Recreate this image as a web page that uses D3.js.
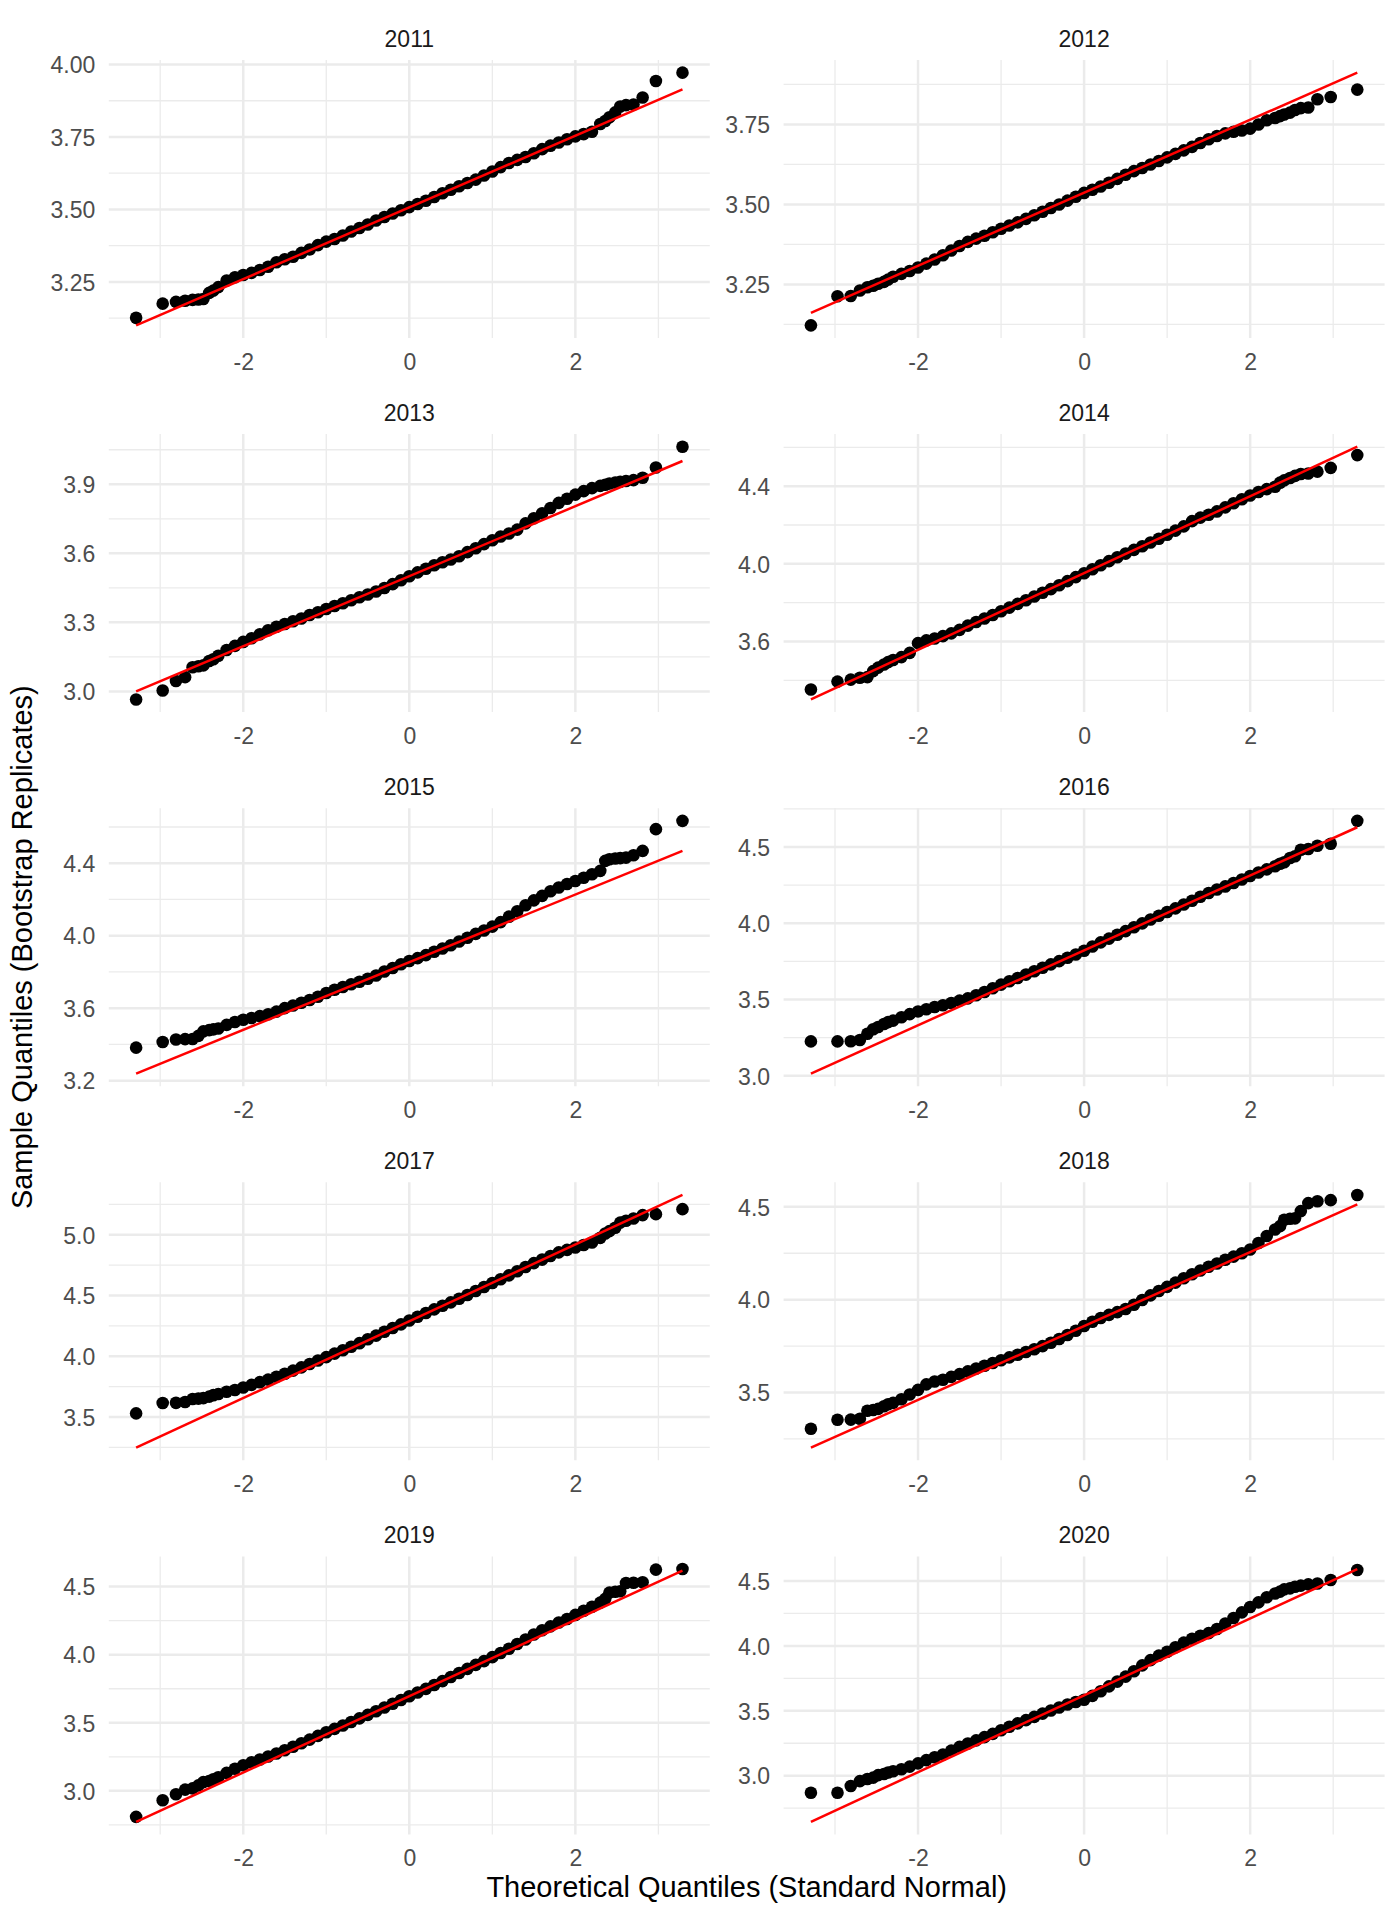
<!DOCTYPE html>
<html>
<head>
<meta charset="utf-8">
<script src="https://cdn.jsdelivr.net/npm/d3@7"></script>
<style>
  body { margin: 0; background: #fff; }
  svg { display: block; }
  text { font-family: "Liberation Sans", Arial, Helvetica, sans-serif; }
</style>
</head>
<body>
<svg width="1400" height="1920"></svg>
<script>
// facets
var years = ["2011", "2012", "2013", "2014", "2015", "2016", "2017", "2018", "2019", "2020"];

// theoretical quantiles (standard normal) of the plotted points
var theo = [-3.29, -2.97, -2.81, -2.70, -2.61, -2.54, -2.48, -2.41, -2.36,
  -2.3, -2.2, -2.1, -2.0, -1.9, -1.8, -1.7, -1.6, -1.5, -1.4, -1.3, -1.2, -1.1, -1.0,
  -0.9, -0.8, -0.7, -0.6, -0.5, -0.4, -0.3, -0.2, -0.1, 0,
  0.1, 0.2, 0.3, 0.4, 0.5, 0.6, 0.7, 0.8, 0.9, 1.0,
  1.1, 1.2, 1.3, 1.4, 1.5, 1.6, 1.7, 1.8, 1.9, 2.0, 2.1, 2.2, 2.3,
  2.36, 2.41, 2.48, 2.54, 2.61, 2.70, 2.81, 2.97, 3.29];

// sample quantiles (bootstrap replicates), one value per theoretical quantile
var q2011 = [3.126, 3.175, 3.181, 3.185, 3.188, 3.189, 3.191, 3.212, 3.220,
  3.232, 3.255, 3.266, 3.274, 3.281, 3.291, 3.302, 3.318, 3.328, 3.337, 3.350, 3.362, 3.377, 3.389,
  3.398, 3.410, 3.424, 3.436, 3.448, 3.462, 3.474, 3.486, 3.497, 3.508,
  3.519, 3.530, 3.543, 3.556, 3.568, 3.580, 3.591, 3.603, 3.617, 3.631,
  3.646, 3.660, 3.671, 3.681, 3.694, 3.708, 3.720, 3.731, 3.742, 3.752, 3.760, 3.768, 3.795,
  3.805, 3.818, 3.835, 3.855, 3.860, 3.862, 3.886, 3.943, 3.972];
var q2012 = [3.122, 3.213, 3.214, 3.231, 3.241, 3.246, 3.252, 3.258, 3.265,
  3.274, 3.283, 3.292, 3.303, 3.315, 3.328, 3.341, 3.356, 3.370, 3.383, 3.393, 3.402, 3.413, 3.424,
  3.434, 3.444, 3.455, 3.466, 3.477, 3.489, 3.500, 3.512, 3.524, 3.536,
  3.546, 3.556, 3.568, 3.580, 3.593, 3.604, 3.614, 3.625, 3.636, 3.647,
  3.658, 3.669, 3.680, 3.692, 3.704, 3.714, 3.722, 3.727, 3.731, 3.737, 3.750, 3.763, 3.770,
  3.776, 3.781, 3.787, 3.795, 3.801, 3.803, 3.829, 3.836, 3.859];
var q2013 = [2.965, 3.004, 3.045, 3.062, 3.105, 3.109, 3.113, 3.132, 3.140,
  3.155, 3.180, 3.198, 3.215, 3.231, 3.248, 3.266, 3.281, 3.293, 3.305, 3.317, 3.332, 3.344, 3.358,
  3.371, 3.383, 3.396, 3.409, 3.421, 3.434, 3.449, 3.466, 3.483, 3.500,
  3.517, 3.533, 3.548, 3.561, 3.573, 3.587, 3.605, 3.622, 3.640, 3.657,
  3.673, 3.686, 3.703, 3.730, 3.752, 3.774, 3.797, 3.819, 3.837, 3.855, 3.870, 3.883, 3.893,
  3.898, 3.903, 3.907, 3.911, 3.914, 3.918, 3.928, 3.973, 4.063];
var q2014 = [3.353, 3.394, 3.404, 3.414, 3.417, 3.448, 3.466, 3.482, 3.494,
  3.505, 3.520, 3.542, 3.592, 3.606, 3.616, 3.628, 3.642, 3.660, 3.682, 3.701, 3.719, 3.737, 3.756,
  3.775, 3.794, 3.813, 3.832, 3.851, 3.870, 3.890, 3.911, 3.932, 3.952,
  3.972, 3.993, 4.014, 4.034, 4.053, 4.072, 4.091, 4.110, 4.129, 4.150,
  4.171, 4.193, 4.220, 4.238, 4.253, 4.270, 4.291, 4.312, 4.333, 4.352, 4.370, 4.385, 4.397,
  4.418, 4.430, 4.442, 4.453, 4.463, 4.465, 4.475, 4.494, 4.560];
var q2015 = [3.382, 3.413, 3.427, 3.429, 3.430, 3.447, 3.472, 3.479, 3.483,
  3.488, 3.508, 3.524, 3.536, 3.546, 3.556, 3.566, 3.581, 3.600, 3.615, 3.630, 3.645, 3.663, 3.684,
  3.702, 3.717, 3.732, 3.746, 3.762, 3.780, 3.802, 3.822, 3.842, 3.860,
  3.876, 3.893, 3.911, 3.929, 3.947, 3.968, 3.989, 4.010, 4.029, 4.050,
  4.075, 4.105, 4.135, 4.168, 4.195, 4.220, 4.245, 4.266, 4.285, 4.302, 4.320, 4.339, 4.358,
  4.413, 4.422, 4.426, 4.428, 4.431, 4.444, 4.468, 4.588, 4.634];
var q2016 = [3.226, 3.226, 3.227, 3.235, 3.276, 3.306, 3.320, 3.340, 3.352,
  3.362, 3.384, 3.405, 3.422, 3.437, 3.451, 3.463, 3.478, 3.493, 3.508, 3.528, 3.550, 3.574, 3.598,
  3.620, 3.642, 3.664, 3.686, 3.709, 3.731, 3.752, 3.774, 3.796, 3.820,
  3.848, 3.875, 3.900, 3.925, 3.949, 3.974, 4.000, 4.025, 4.050, 4.074,
  4.098, 4.123, 4.148, 4.174, 4.199, 4.222, 4.242, 4.264, 4.287, 4.310, 4.333, 4.354, 4.374,
  4.391, 4.400, 4.428, 4.440, 4.482, 4.487, 4.509, 4.522, 4.672];
var q2017 = [3.530, 3.615, 3.617, 3.624, 3.648, 3.652, 3.656, 3.668, 3.680,
  3.690, 3.708, 3.722, 3.743, 3.765, 3.787, 3.808, 3.832, 3.856, 3.882, 3.909, 3.937, 3.965, 3.993,
  4.022, 4.050, 4.078, 4.108, 4.140, 4.170, 4.202, 4.233, 4.263, 4.294,
  4.325, 4.356, 4.386, 4.416, 4.444, 4.474, 4.505, 4.537, 4.570, 4.603,
  4.634, 4.666, 4.700, 4.735, 4.767, 4.796, 4.826, 4.855, 4.876, 4.896, 4.916, 4.937, 4.975,
  5.010, 5.030, 5.058, 5.100, 5.115, 5.134, 5.162, 5.170, 5.211];
var q2018 = [3.305, 3.353, 3.354, 3.359, 3.402, 3.406, 3.412, 3.426, 3.437,
  3.444, 3.464, 3.489, 3.514, 3.544, 3.559, 3.569, 3.584, 3.599, 3.614, 3.629, 3.644, 3.659, 3.674,
  3.689, 3.703, 3.718, 3.733, 3.750, 3.768, 3.788, 3.810, 3.833, 3.858,
  3.881, 3.901, 3.918, 3.933, 3.950, 3.973, 3.998, 4.023, 4.047, 4.069,
  4.092, 4.115, 4.137, 4.157, 4.177, 4.195, 4.215, 4.232, 4.250, 4.270, 4.305, 4.343, 4.378,
  4.396, 4.430, 4.436, 4.438, 4.477, 4.520, 4.530, 4.536, 4.564];
var q2019 = [2.809, 2.931, 2.975, 3.009, 3.018, 3.040, 3.064, 3.072, 3.085,
  3.100, 3.132, 3.162, 3.188, 3.210, 3.230, 3.252, 3.274, 3.298, 3.324, 3.350, 3.376, 3.404, 3.430,
  3.455, 3.480, 3.506, 3.532, 3.558, 3.585, 3.612, 3.640, 3.667, 3.695,
  3.722, 3.749, 3.777, 3.806, 3.836, 3.866, 3.896, 3.925, 3.953, 3.982,
  4.012, 4.044, 4.078, 4.112, 4.148, 4.180, 4.208, 4.236, 4.262, 4.292, 4.323, 4.352, 4.382,
  4.410, 4.456, 4.462, 4.466, 4.526, 4.528, 4.532, 4.625, 4.629];
var q2020 = [2.869, 2.869, 2.920, 2.958, 2.974, 2.985, 3.004, 3.013, 3.025,
  3.034, 3.050, 3.070, 3.095, 3.120, 3.142, 3.163, 3.193, 3.222, 3.248, 3.272, 3.297, 3.322, 3.350,
  3.377, 3.403, 3.428, 3.453, 3.478, 3.502, 3.525, 3.548, 3.568, 3.585,
  3.615, 3.650, 3.688, 3.725, 3.763, 3.805, 3.850, 3.890, 3.925, 3.955,
  3.990, 4.025, 4.055, 4.078, 4.098, 4.130, 4.172, 4.215, 4.258, 4.300, 4.335, 4.375, 4.403,
  4.418, 4.435, 4.443, 4.455, 4.464, 4.474, 4.480, 4.508, 4.585];
var samples = [q2011, q2012, q2013, q2014, q2015, q2016, q2017, q2018, q2019, q2020];

// red reference line: y at the first and last theoretical quantile
var lineStart = [3.100, 3.161, 3.000, 3.302, 3.239, 3.015, 3.248, 3.203, 2.773, 2.645];
var lineEnd   = [3.914, 3.912, 4.001, 4.603, 4.468, 4.630, 5.328, 4.513, 4.617, 4.592];

// tick labels
var xBreaks = [-2, 0, 2];
var yBreaks = [
  [3.25, 3.5, 3.75, 4.0], [3.25, 3.5, 3.75],
  [3.0, 3.3, 3.6, 3.9], [3.6, 4.0, 4.4],
  [3.2, 3.6, 4.0, 4.4], [3.0, 3.5, 4.0, 4.5],
  [3.5, 4.0, 4.5, 5.0], [3.5, 4.0, 4.5],
  [3.0, 3.5, 4.0, 4.5], [3.0, 3.5, 4.0, 4.5]
];

var svg = d3.select("svg");
var colLeft = [108.8, 783.6],
    panelW = 601,
    panelH = 278,
    rowTop = 60,
    rowStep = 374.1;
var gridCol = "#EBEBEB";

function expand(lo, hi) {
  var p = (hi - lo) * 0.05;
  return [lo - p, hi + p];
}
function minors(br, dom) {
  var step = br[1] - br[0];
  var m = [br[0] - step / 2].concat(br.map(function(b) { return b + step / 2; }));
  return m.filter(function(v) { return v >= dom[0] && v <= dom[1]; });
}
function decimals(br) {
  for (var d = 0; d < 4; d++) {
    var ok = br.every(function(b) {
      var s = b * Math.pow(10, d);
      return Math.abs(s - Math.round(s)) < 1e-6;
    });
    if (ok) return d;
  }
  return 3;
}

var xDom = expand(d3.min(theo), d3.max(theo));

years.forEach(function(yr, i) {
  var col = i % 2, row = Math.floor(i / 2);
  var left = colLeft[col], top = rowTop + row * rowStep;
  var vals = samples[i];
  var pts = theo.map(function(t, k) { return {t: t, s: vals[k]}; });

  var x = d3.scaleLinear().domain(xDom).range([0, panelW]);
  var yDom = expand(Math.min(d3.min(vals), lineStart[i], lineEnd[i]),
                    Math.max(d3.max(vals), lineStart[i], lineEnd[i]));
  var y = d3.scaleLinear().domain(yDom).range([panelH, 0]);

  var g = svg.append("g").attr("transform", "translate(" + left + "," + top + ")");

  g.append("clipPath").attr("id", "clip" + i)
    .append("rect").attr("width", panelW).attr("height", panelH);

  // minor grid
  g.selectAll(".ymin").data(minors(yBreaks[i], yDom)).enter().append("line")
    .attr("x1", 0).attr("x2", panelW)
    .attr("y1", function(d) { return y(d); }).attr("y2", function(d) { return y(d); })
    .attr("stroke", gridCol).attr("stroke-width", 1.3);
  g.selectAll(".xmin").data(minors(xBreaks, xDom)).enter().append("line")
    .attr("y1", 0).attr("y2", panelH)
    .attr("x1", function(d) { return x(d); }).attr("x2", function(d) { return x(d); })
    .attr("stroke", gridCol).attr("stroke-width", 1.3);
  // major grid
  g.selectAll(".ymaj").data(yBreaks[i]).enter().append("line")
    .attr("x1", 0).attr("x2", panelW)
    .attr("y1", function(d) { return y(d); }).attr("y2", function(d) { return y(d); })
    .attr("stroke", gridCol).attr("stroke-width", 2.5);
  g.selectAll(".xmaj").data(xBreaks).enter().append("line")
    .attr("y1", 0).attr("y2", panelH)
    .attr("x1", function(d) { return x(d); }).attr("x2", function(d) { return x(d); })
    .attr("stroke", gridCol).attr("stroke-width", 2.5);

  var plot = g.append("g").attr("clip-path", "url(#clip" + i + ")");
  plot.selectAll("circle").data(pts).enter().append("circle")
    .attr("cx", function(d) { return x(d.t); })
    .attr("cy", function(d) { return y(d.s); })
    .attr("r", 6.3)
    .attr("fill", "#000");

  var tEnds = d3.extent(theo);
  plot.append("line")
    .attr("x1", x(tEnds[0])).attr("y1", y(lineStart[i]))
    .attr("x2", x(tEnds[1])).attr("y2", y(lineEnd[i]))
    .attr("stroke", "red").attr("stroke-width", 2.5);

  // axes (labels only, like theme_minimal)
  var fmt = d3.format("." + decimals(yBreaks[i]) + "f");
  var ya = g.append("g")
    .call(d3.axisLeft(y).tickValues(yBreaks[i]).tickSize(0).tickPadding(13.5).tickFormat(fmt));
  var xa = g.append("g").attr("transform", "translate(0," + panelH + ")")
    .call(d3.axisBottom(x).tickValues(xBreaks).tickSize(0).tickPadding(15.5)
      .tickFormat(function(d) { return String(d); }));
  [ya, xa].forEach(function(a) {
    a.select(".domain").remove();
    a.attr("font-family", null).attr("font-size", null);
    a.selectAll("text").attr("font-size", 23).attr("fill", "#4D4D4D");
  });
  ya.selectAll("text").attr("dy", "0.36em");

  // strip label
  g.append("text")
    .attr("x", panelW / 2).attr("y", -13.5)
    .attr("text-anchor", "middle")
    .attr("font-size", 23).attr("fill", "#1A1A1A")
    .text(yr);
});

var bottom = rowTop + 4 * rowStep + panelH;
svg.append("text")
  .attr("x", (colLeft[0] + colLeft[1] + panelW) / 2)
  .attr("y", 1897)
  .attr("text-anchor", "middle")
  .attr("font-size", 29).attr("fill", "#000")
  .text("Theoretical Quantiles (Standard Normal)");

svg.append("text")
  .attr("transform", "translate(32," + ((rowTop + bottom) / 2) + ") rotate(-90)")
  .attr("text-anchor", "middle")
  .attr("font-size", 29).attr("fill", "#000")
  .text("Sample Quantiles (Bootstrap Replicates)");
</script>
</body>
</html>
